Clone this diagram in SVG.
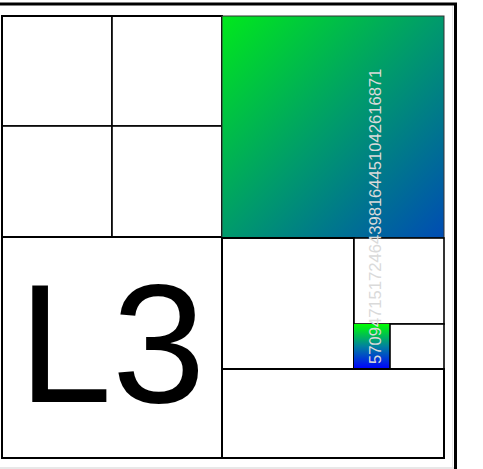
<svg xmlns="http://www.w3.org/2000/svg" width="483" height="469" viewBox="0 0 483 469">
<style>
.box{fill:#fff;stroke:#000;stroke-width:2}
.thin{fill:#fff;stroke:#000;stroke-width:1.6}
.lbl{font-family:"Liberation Sans",Arial,sans-serif}
</style>
<defs>
<linearGradient id="g1" x1="0" y1="0" x2="1" y2="1">
<stop offset="0" stop-color="#00e81c"/>
<stop offset="0.5" stop-color="#009a6c"/>
<stop offset="1" stop-color="#004cb4"/>
</linearGradient>
<linearGradient id="g2" x1="0" y1="0" x2="0" y2="1">
<stop offset="0" stop-color="#00ff00"/>
<stop offset="0.5" stop-color="#0080a0"/>
<stop offset="1" stop-color="#0000ff"/>
</linearGradient>
</defs>
<rect width="483" height="469" fill="#fff"/>
<g id="frame">
<line x1="0" y1="468" x2="454" y2="468" stroke="#e0e0e0" stroke-width="1.5"/>
<line x1="452.5" y1="6" x2="452.5" y2="468" stroke="#e6e6e6" stroke-width="1"/>
<line x1="0" y1="4" x2="457" y2="4" stroke="#000" stroke-width="3"/>
<line x1="455.5" y1="3" x2="455.5" y2="469" stroke="#000" stroke-width="3"/>
</g>
<g id="q1"><rect class="thin" x="2" y="16" width="110" height="110"/></g>
<g id="q2"><rect class="thin" x="112" y="16" width="110" height="110"/></g>
<g id="q3"><rect class="thin" x="2" y="126" width="110" height="111"/></g>
<g id="q4"><rect class="thin" x="112" y="126" width="110" height="111"/></g>
<g id="quads"><rect x="2" y="16" width="220" height="221" fill="none" stroke="#000" stroke-width="2"/></g>
<g id="l3">
<rect class="box" x="2" y="237" width="220" height="221"/>
<text class="lbl" x="112" y="402" font-size="168" text-anchor="middle" fill="#000">L3</text>
</g>
<g id="big"><rect x="222" y="16" width="222" height="222" fill="url(#g1)" stroke="#333" stroke-width="1"/></g>
<g id="r1"><rect class="box" x="222" y="238" width="132" height="131"/></g>
<g id="r2"><rect class="thin" x="354" y="238" width="90" height="86"/></g>
<g id="small"><rect x="354" y="324" width="36" height="45" fill="url(#g2)"/></g>
<g id="r3"><rect class="thin" x="390" y="324" width="54" height="45"/></g>
<g id="r4"><rect class="box" x="222" y="369" width="222" height="89"/></g>
<g id="connectors"></g>
<text class="lbl" transform="translate(381,364) rotate(-90)" font-size="16.6" fill="#dadada">57094715172464398164451042616871</text>
</svg>
